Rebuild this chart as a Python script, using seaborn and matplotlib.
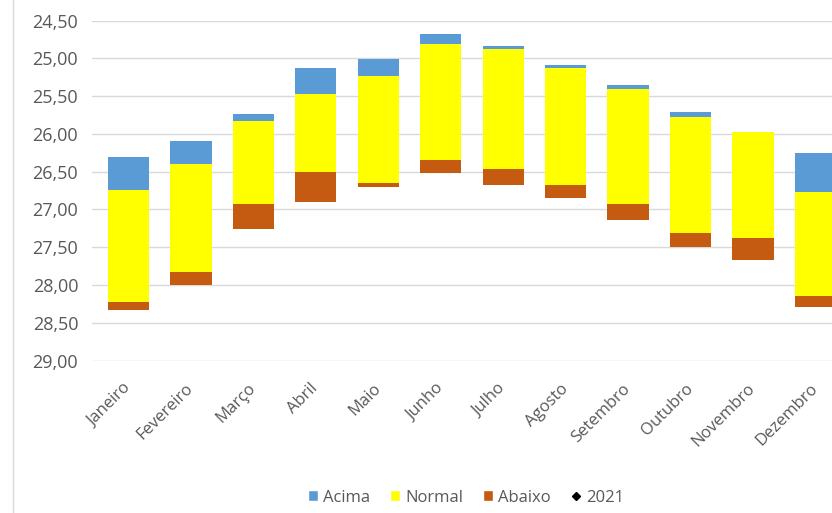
import numpy as np
import matplotlib
matplotlib.use('Agg')
import matplotlib.pyplot as plt
import seaborn as sns
from matplotlib.lines import Line2D
from matplotlib.patches import Patch

# limites de cada faixa (ºC, eixo invertido)
meses = ['Janeiro', 'Fevereiro', 'Março', 'Abril', 'Maio', 'Junho',
         'Julho', 'Agosto', 'Setembro', 'Outubro', 'Novembro', 'Dezembro']
acima_topo = [26.31, 26.09, 25.73, 25.13, 25.01, 24.67,
              24.83, 25.09, 25.35, 25.71, 25.97, 26.25]
normal_topo = [26.74, 26.40, 25.83, 25.47, 25.23, 24.81,
               24.87, 25.12, 25.41, 25.77, 25.97, 26.77]
normal_base = [28.23, 27.83, 26.93, 26.51, 26.65, 26.35,
               26.47, 26.67, 26.93, 27.31, 27.38, 28.15]
abaixo_base = [28.33, 28.00, 27.26, 26.90, 26.70, 26.52,
               26.67, 26.85, 27.14, 27.49, 27.67, 28.29]
valores_2021 = []  # serie sem pontos visiveis

cor_acima = '#5B9BD5'
cor_normal = '#FFFF00'
cor_abaixo = '#C55A11'
cinza = '#595959'

sns.set_style('white')
plt.rcParams['font.family'] = ['Open Sans', 'DejaVu Sans']

fig = plt.figure(figsize=(8.32, 5.13), dpi=100)
ax = fig.add_axes([0.1106, 0.2957, 0.907, 0.664])

faixas = [
    ('Acima', acima_topo, normal_topo, cor_acima),
    ('Normal', normal_topo, normal_base, cor_normal),
    ('Abaixo', normal_base, abaixo_base, cor_abaixo),
]
for nome, ini, fim, cor in faixas:
    ini = np.array(ini)
    altura = np.array(fim) - ini
    sns.barplot(x=meses, y=altura, bottom=ini, color=cor, saturation=1,
                width=0.66, ax=ax, linewidth=0, zorder=3)

ax.scatter(range(len(valores_2021)), valores_2021, marker='D', color='black', s=12)

ax.set_ylim(29.01, 24.5)
ax.set_xlim(-0.585, 11.5)
ticks = np.arange(24.5, 29.01, 0.5)
ax.set_yticks(ticks)
ax.set_yticklabels([f'{v:.2f}'.replace('.', ',') for v in ticks])
ax.grid(axis='y', color='#D9D9D9', linewidth=1, zorder=0)
ax.grid(axis='x', visible=False)
for s in ax.spines.values():
    s.set_visible(False)

ax.tick_params(axis='y', length=0, pad=10, labelsize=13, labelcolor=cinza)
ax.tick_params(axis='x', length=0, pad=18, labelsize=12, labelcolor=cinza)
plt.setp(ax.get_xticklabels(), rotation=45, ha='right', va='center',
         rotation_mode='anchor')
ax.set_xlabel('')
ax.set_ylabel('')

# borda esquerda da area do grafico
fig.add_artist(Line2D([12.5 / 832, 12.5 / 832], [0, 1], color='#D9D9D9', linewidth=1))

handles = [
    Patch(facecolor=cor_acima, label='Acima'),
    Patch(facecolor=cor_normal, label='Normal'),
    Patch(facecolor=cor_abaixo, label='Abaixo'),
    Line2D([], [], marker='D', color='black', linestyle='none', markersize=4, label='2021'),
]
fig.legend(handles=handles, loc='center', bbox_to_anchor=(0.56, 0.03), ncol=4,
           frameon=False, fontsize=12, handlelength=0.6, handleheight=0.6,
           handletextpad=0.3, columnspacing=1.2, labelcolor=cinza)

fig.savefig('out.png', dpi=100)
